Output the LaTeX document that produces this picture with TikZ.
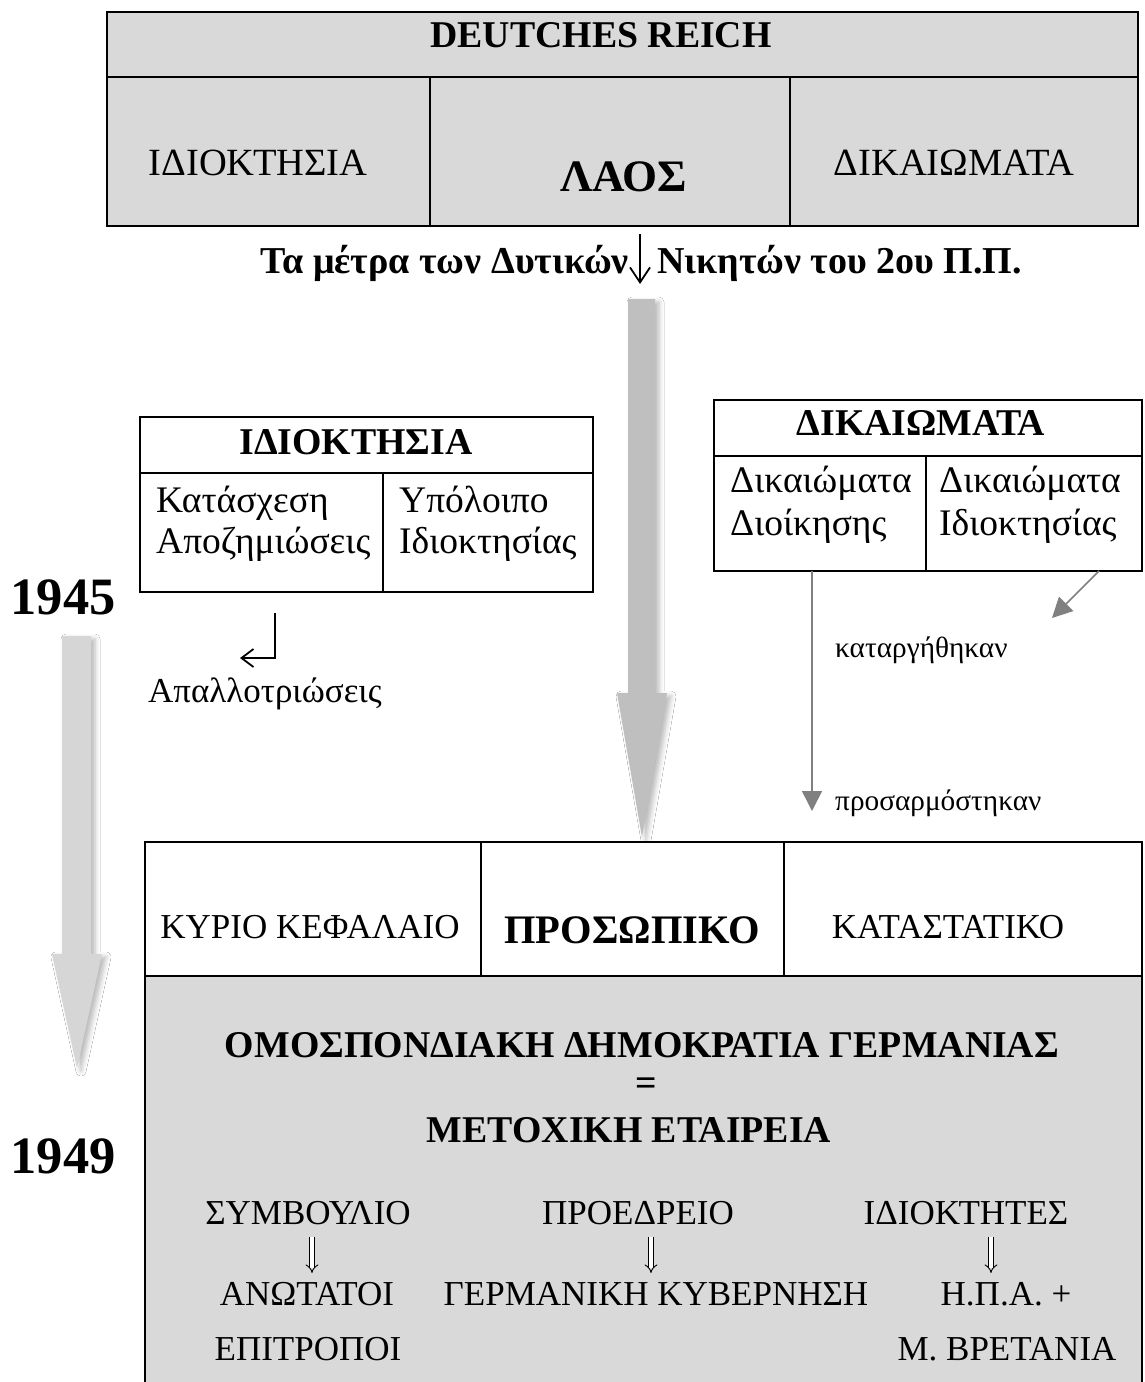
\documentclass[tikz,border=0pt]{standalone}
\usepackage{fontspec}
\setmainfont{Liberation Serif}
\usetikzlibrary{arrows.meta,shadows.blur}
\definecolor{boxgray}{HTML}{D9D9D9}
\definecolor{bigarrow}{HTML}{BFBFBF}
\definecolor{lightarrow}{HTML}{D6D6D6}
\definecolor{connGray}{HTML}{808080}
\tikzset{
  cellg/.style={draw=black, line width=2.5pt, fill=boxgray, outer sep=0pt, inner sep=0pt, anchor=north west},
  cellw/.style={draw=black, line width=2.5pt, fill=white, outer sep=0pt, inner sep=0pt, anchor=north west},
  treg/.style={inner sep=0pt, font=\fontsize{35}{40}\selectfont},
  ttop/.style={inner sep=0pt, font=\fontsize{38.5}{44}\selectfont},
  tcell/.style={inner sep=0pt, font=\fontsize{37.5}{44}\selectfont},
  tbold/.style={inner sep=0pt, font=\fontsize{37.8}{44}\selectfont\bfseries},
  tlaos/.style={inner sep=0pt, font=\fontsize{45}{50}\selectfont\bfseries},
  tbig/.style={inner sep=0pt, font=\fontsize{40.5}{46}\selectfont\bfseries},
  tline/.style={inner sep=0pt, font=\fontsize{38}{44}\selectfont\bfseries},
  tyear/.style={inner sep=0pt, font=\fontsize{52.5}{58}\selectfont\bfseries},
  tsmall/.style={inner sep=0pt, font=\fontsize{29.3}{34}\selectfont},
  blockshadow/.style={blur shadow={shadow xshift=4pt, shadow yshift=-3pt, shadow blur radius=5pt, shadow opacity=28}},
  gconn/.style={draw=connGray, line width=1.5pt, -{Triangle[length=20pt,width=20pt]}},
  blk/.style={draw=black, line width=1.8pt, -{Straight Barb[length=15pt,width=20pt,line width=1.8pt]}},
  dbl/.style={draw=black, line width=0.9pt, double, double distance=3.6pt, -{Implies[length=8pt,width=11pt]}},
}
\begin{document}
\begin{tikzpicture}[x=1pt,y=-1pt]
\clip (0,0) rectangle (1145,1382);
\fill[white] (0,0) rectangle (1145,1382);

% ---------- top box: DEUTCHES REICH ----------
\node[cellg, minimum width=1031, minimum height=65] (rhead) at (107,12) {};
\node[cellg, minimum width=323, minimum height=149] (rc1) at (107,77) {};
\node[cellg, minimum width=360, minimum height=149] (rc2) at (430,77) {};
\node[cellg, minimum width=348, minimum height=149] (rc3) at (790,77) {};
\node[tbold, anchor=base] (reich) at (601,47) {DEUTCHES REICH};
\node[ttop, anchor=base] (ridio) at (258,175) {ΙΔΙΟΚΤΗΣΙΑ};
\node[tlaos, anchor=base] (rlaos) at (624,191) {ΛΑΟΣ};
\node[ttop, anchor=base] (rdik) at (954,175) {ΔΙΚΑΙΩΜΑΤΑ};

% ---------- measures line ----------
\node[tline, anchor=base east] (mleft) at (629,273) {Τα μέτρα των Δυτικών};
\node[tline, anchor=base west] (mright) at (657,273) {Νικητών του 2ου Π.Π.};
\coordinate (mend) at (640,284);
\draw[blk] ([xshift=30pt,yshift=-8pt]rc2.south) -- (mend);

% ---------- big central arrow ----------
\fill[bigarrow, blockshadow] (628,299) -- (655,299) -- (655,693) -- (667,693) -- (642,837) -- (617,693) -- (628,693) -- cycle;

% ---------- left timeline arrow ----------
\fill[lightarrow, blockshadow] (62,636) -- (91,636) -- (91,954) -- (102,954) -- (77,1068) -- (52,954) -- (62,954) -- cycle;
\node[tyear, anchor=base] (y45) at (63,614) {1945};
\node[tyear, anchor=base] (y49) at (63,1173) {1949};

% ---------- ΙΔΙΟΚΤΗΣΙΑ box ----------
\node[cellw, minimum width=453, minimum height=56] (ihead) at (140,417) {};
\node[cellw, minimum width=243, minimum height=119] (ileft) at (140,473) {};
\node[cellw, minimum width=210, minimum height=119] (iright) at (383,473) {};
\node[tbold, anchor=base] (iht) at (356,454) {ΙΔΙΟΚΤΗΣΙΑ};
\node[tcell, anchor=base west] (il1) at (156,512) {Κατάσχεση};
\node[tcell, anchor=base west] (il2) at (156,553) {Αποζημιώσεις};
\node[tcell, anchor=base west] (ir1) at (399,512) {Υπόλοιπο};
\node[tcell, anchor=base west] (ir2) at (399,553) {Ιδιοκτησίας};
\coordinate (hook) at (240,658);
\draw[blk, -{Straight Barb[length=12pt,width=18pt,line width=1.8pt]}] ([xshift=13.5pt,yshift=-21pt]ileft.south) |- (hook);
\node[treg, anchor=base west] (apal) at (148,702) {Απαλλοτριώσεις};

% ---------- ΔΙΚΑΙΩΜΑΤΑ box ----------
\node[cellw, minimum width=428, minimum height=56] (dhead) at (714,400) {};
\node[cellw, minimum width=212, minimum height=115] (dleft) at (714,456) {};
\node[cellw, minimum width=216, minimum height=115] (dright) at (926,456) {};
\node[tbold, anchor=base] (dht) at (921,435) {ΔΙΚΑΙΩΜΑΤΑ};
\node[tcell, anchor=base west] (dl1) at (730,492) {Δικαιώματα};
\node[tcell, anchor=base west] (dl2) at (730,535) {Διοίκησης};
\node[tcell, anchor=base west] (dr1) at (939,492) {Δικαιώματα};
\node[tcell, anchor=base west] (dr2) at (939,535) {Ιδιοκτησίας};
\coordinate (kat) at (1052,618);
\coordinate (pros) at (812,811);
\draw[gconn] ([xshift=65pt]dright.south) -- (kat);
\draw[gconn] ([xshift=-8pt]dleft.south) -- (pros);
\node[tsmall, anchor=base west] (katt) at (835,657) {καταργήθηκαν};
\node[tsmall, anchor=base west] (prost) at (835,810) {προσαρμόστηκαν};

% ---------- bottom box ----------
\node[cellg, minimum width=997, minimum height=440] (fed) at (145,976) {};
\node[cellw, minimum width=336, minimum height=134] (bc1) at (145,842) {};
\node[cellw, minimum width=303, minimum height=134] (bc2) at (481,842) {};
\node[cellw, minimum width=358, minimum height=134] (bc3) at (784,842) {};
\node[treg, anchor=base] (kyr) at (310,938) {ΚΥΡΙΟ ΚΕΦΑΛΑΙΟ};
\node[tbig, anchor=base] (pros2) at (632,943) {ΠΡΟΣΩΠΙΚΟ};
\node[treg, anchor=base] (kat2) at (948,938) {ΚΑΤΑΣΤΑΤΙΚΟ};
\node[tbold, anchor=base] (omos) at (642,1057) {ΟΜΟΣΠΟΝΔΙΑΚΗ ΔΗΜΟΚΡΑΤΙΑ ΓΕΡΜΑΝΙΑΣ};
\node[tbold] (eq) at (646,1087) {=};
\node[tbold, anchor=base] (meto) at (629,1142) {ΜΕΤΟΧΙΚΗ ΕΤΑΙΡΕΙΑ};
\node[treg, anchor=base] (symv) at (308,1224) {ΣΥΜΒΟΥΛΙΟ};
\node[treg, anchor=base] (proe) at (638,1224) {ΠΡΟΕΔΡΕΙΟ};
\node[treg, anchor=base] (idkt) at (966,1224) {ΙΔΙΟΚΤΗΤΕΣ};
\node[treg, anchor=base] (anot) at (307,1305) {ΑΝΩΤΑΤΟΙ};
\node[treg, anchor=base] (germ) at (656,1305) {ΓΕΡΜΑΝΙΚΗ ΚΥΒΕΡΝΗΣΗ};
\node[treg, anchor=base] (hpa) at (1006,1305) {Η.Π.Α. +};
\node[treg, anchor=base] (epit) at (308,1360) {ΕΠΙΤΡΟΠΟΙ};
\node[treg, anchor=base] (mbr) at (1007,1360) {Μ. ΒΡΕΤΑΝΙΑ};
\draw[dbl] ([xshift=4pt,yshift=-13pt]symv.base) -- ([xshift=5pt,yshift=32pt]anot.base);
\draw[dbl] ([xshift=13pt,yshift=-13pt]proe.base) -- ([xshift=-5pt,yshift=32pt]germ.base);
\draw[dbl] ([xshift=25pt,yshift=-13pt]idkt.base) -- ([xshift=-15pt,yshift=32pt]hpa.base);
\end{tikzpicture}
\end{document}
